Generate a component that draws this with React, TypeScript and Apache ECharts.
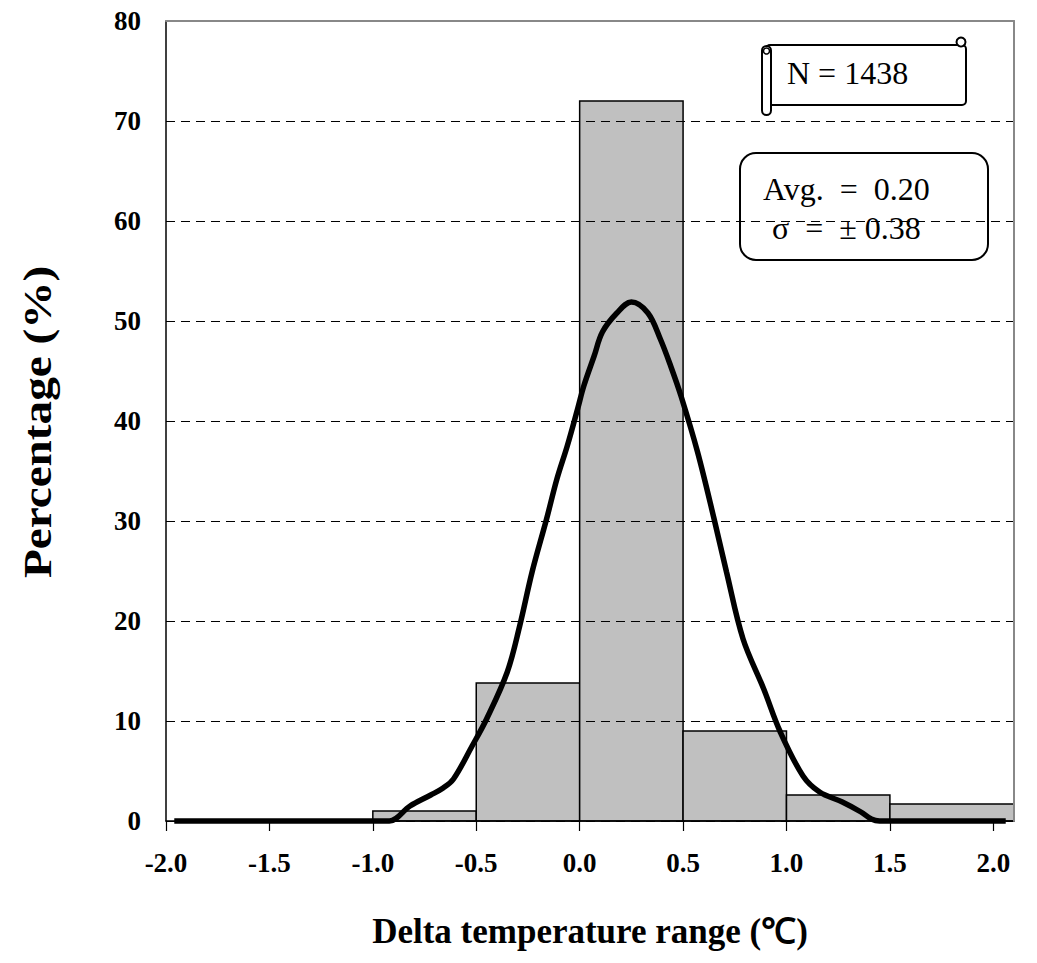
import React, { useEffect, useRef } from "react";
import * as echarts from "echarts";

const binStart = [-1.0, -0.5, 0.0, 0.5, 1.0, 1.5];
const binEnd = [-0.5, 0.0, 0.5, 1.0, 1.5, 2.1];
const binPct = [1.0, 13.8, 72.0, 9.0, 2.6, 1.7];

const curveX = [-1.96, -1.5, -1.0, -0.92, -0.82, -0.72, -0.66, -0.61, -0.52, -0.45, -0.35, -0.29, -0.23, -0.16, -0.11, -0.06, -0.01, 0.02, 0.07, 0.11, 0.18, 0.25, 0.33, 0.39, 0.44, 0.49, 0.57, 0.65, 0.71, 0.79, 0.89, 0.97, 1.08, 1.16, 1.27, 1.36, 1.41, 1.45, 2.06];
const curveY = [0, 0, 0, 0, 1.5, 2.6, 3.3, 4.2, 7.5, 10.2, 14.9, 19.5, 24.9, 30.2, 34.2, 37.5, 41.2, 43.5, 46.5, 48.9, 50.8, 51.9, 50.8, 48.2, 45.5, 42.5, 36.9, 30.2, 24.9, 18.2, 13.2, 8.9, 4.5, 2.9, 1.9, 0.9, 0.2, 0, 0];

const xTitle = "Delta temperature range (℃)";
const yTitle = "Percentage (%)";
const nText = "N = 1438";
const avgText = "Avg.  =  0.20";
const sigmaText = "σ  =  ± 0.38";

const SERIF = '"Liberation Serif", "Times New Roman", serif';

export default function App() {
  const ref = useRef<HTMLDivElement>(null);
  useEffect(() => {
    if (!ref.current) return;
    const chart = echarts.init(ref.current, null, { renderer: "svg" });
    const bars = binStart.map((s, i) => [s, binEnd[i], binPct[i]]);
    const curve = curveX.map((x, i) => [x, curveY[i]]);
    chart.setOption({
      animation: false,
      backgroundColor: "#fff",
      grid: { left: 166, right: 23, top: 21, bottom: 142, show: false },
      xAxis: [
        {
          type: "value",
          min: -2,
          max: 2.1,
          interval: 0.5,
          z: 5,
          axisLine: { onZero: false, lineStyle: { color: "#000", width: 1.5 } },
          axisTick: { show: true, inside: false, length: 10, lineStyle: { color: "#000", width: 1.2 } },
          axisLabel: {
            margin: 28,
            color: "#000",
            fontFamily: SERIF,
            fontWeight: "bold",
            fontSize: 27,
            showMaxLabel: false,
            formatter: (v: number) => (v > 2.05 ? "" : v.toFixed(1)),
          },
          splitLine: { show: false },
          name: xTitle,
          nameLocation: "middle",
          nameGap: 93,
          nameTextStyle: { color: "#000", fontFamily: SERIF, fontWeight: "bold", fontSize: 35 },
        },
        {
          type: "value",
          position: "top",
          min: -2,
          max: 2.1,
          z: 6,
          axisLine: { show: true, onZero: false, lineStyle: { color: "#888", width: 2 } },
          axisTick: { show: false },
          axisLabel: { show: false },
          splitLine: { show: false },
        },
      ],
      yAxis: [
        {
          type: "value",
          min: 0,
          max: 80,
          interval: 10,
          z: 5,
          axisLine: { show: true, onZero: false, lineStyle: { color: "#000", width: 1.5 } },
          axisTick: { show: false },
          axisLabel: {
            margin: 25,
            color: "#000",
            fontFamily: SERIF,
            fontWeight: "bold",
            fontSize: 27,
          },
          splitLine: { show: true, lineStyle: { color: "#000", width: 1, type: [9, 6] } },
        },
        {
          type: "value",
          position: "right",
          min: 0,
          max: 80,
          z: 6,
          axisLine: { show: true, onZero: false, lineStyle: { color: "#888", width: 2 } },
          axisTick: { show: false },
          axisLabel: { show: false },
          splitLine: { show: false },
        },
      ],
      series: [
        {
          type: "custom",
          xAxisIndex: 0,
          yAxisIndex: 0,
          z: 2,
          data: bars,
          renderItem: (params: any, api: any) => {
            const p0 = api.coord([api.value(0), api.value(2)]);
            const p1 = api.coord([api.value(1), 0]);
            return {
              type: "rect",
              shape: { x: p0[0], y: p0[1], width: p1[0] - p0[0], height: p1[1] - p0[1] },
              style: { fill: "#c0c0c0", stroke: "#000", lineWidth: 1.5 },
            };
          },
        },
        {
          type: "line",
          xAxisIndex: 0,
          yAxisIndex: 0,
          z: 3,
          data: curve,
          smooth: 0.35,
          showSymbol: false,
          clip: false,
          lineStyle: { color: "#000", width: 5.5 },
        },
      ],
      graphic: [
        {
          type: "text",
          x: 37,
          y: 422,
          rotation: Math.PI / 2,
          scaleX: 1.18,
          style: {
            text: yTitle,
            fontFamily: SERIF,
            fontWeight: "bold",
            fontSize: 40,
            fill: "#000",
            align: "center",
            verticalAlign: "middle",
          },
        },
        {
          type: "group",
          z: 10,
          children: [
            { type: "rect", shape: { x: 766, y: 45, width: 200, height: 60, r: 4 }, style: { fill: "#fff", stroke: "#000", lineWidth: 2 } },
            { type: "circle", shape: { cx: 961, cy: 42, r: 4.5 }, style: { fill: "#fff", stroke: "#000", lineWidth: 2 } },
            { type: "rect", shape: { x: 762, y: 46, width: 9, height: 69, r: 4.5 }, style: { fill: "#fff", stroke: "#000", lineWidth: 2 } },
            { type: "circle", shape: { cx: 766.5, cy: 51, r: 3 }, style: { fill: "#fff", stroke: "#000", lineWidth: 1.5 } },
            { type: "text", x: 787, y: 73, style: { text: nText, fontFamily: SERIF, fontSize: 32, fill: "#000", verticalAlign: "middle" } },
          ],
        },
        {
          type: "group",
          z: 10,
          children: [
            { type: "rect", shape: { x: 740, y: 153, width: 248, height: 107, r: 16 }, style: { fill: "none", stroke: "#000", lineWidth: 2 } },
            { type: "text", x: 763, y: 189, style: { text: avgText, fontFamily: SERIF, fontSize: 32, fill: "#000", verticalAlign: "middle" } },
            { type: "text", x: 772, y: 228, style: { text: sigmaText, fontFamily: SERIF, fontSize: 32, fill: "#000", verticalAlign: "middle" } },
          ],
        },
      ],
    });
    return () => chart.dispose();
  }, []);
  return <div ref={ref} style={{ position: "absolute", left: 0, top: 0, width: 1037, height: 963 }} />;
}
